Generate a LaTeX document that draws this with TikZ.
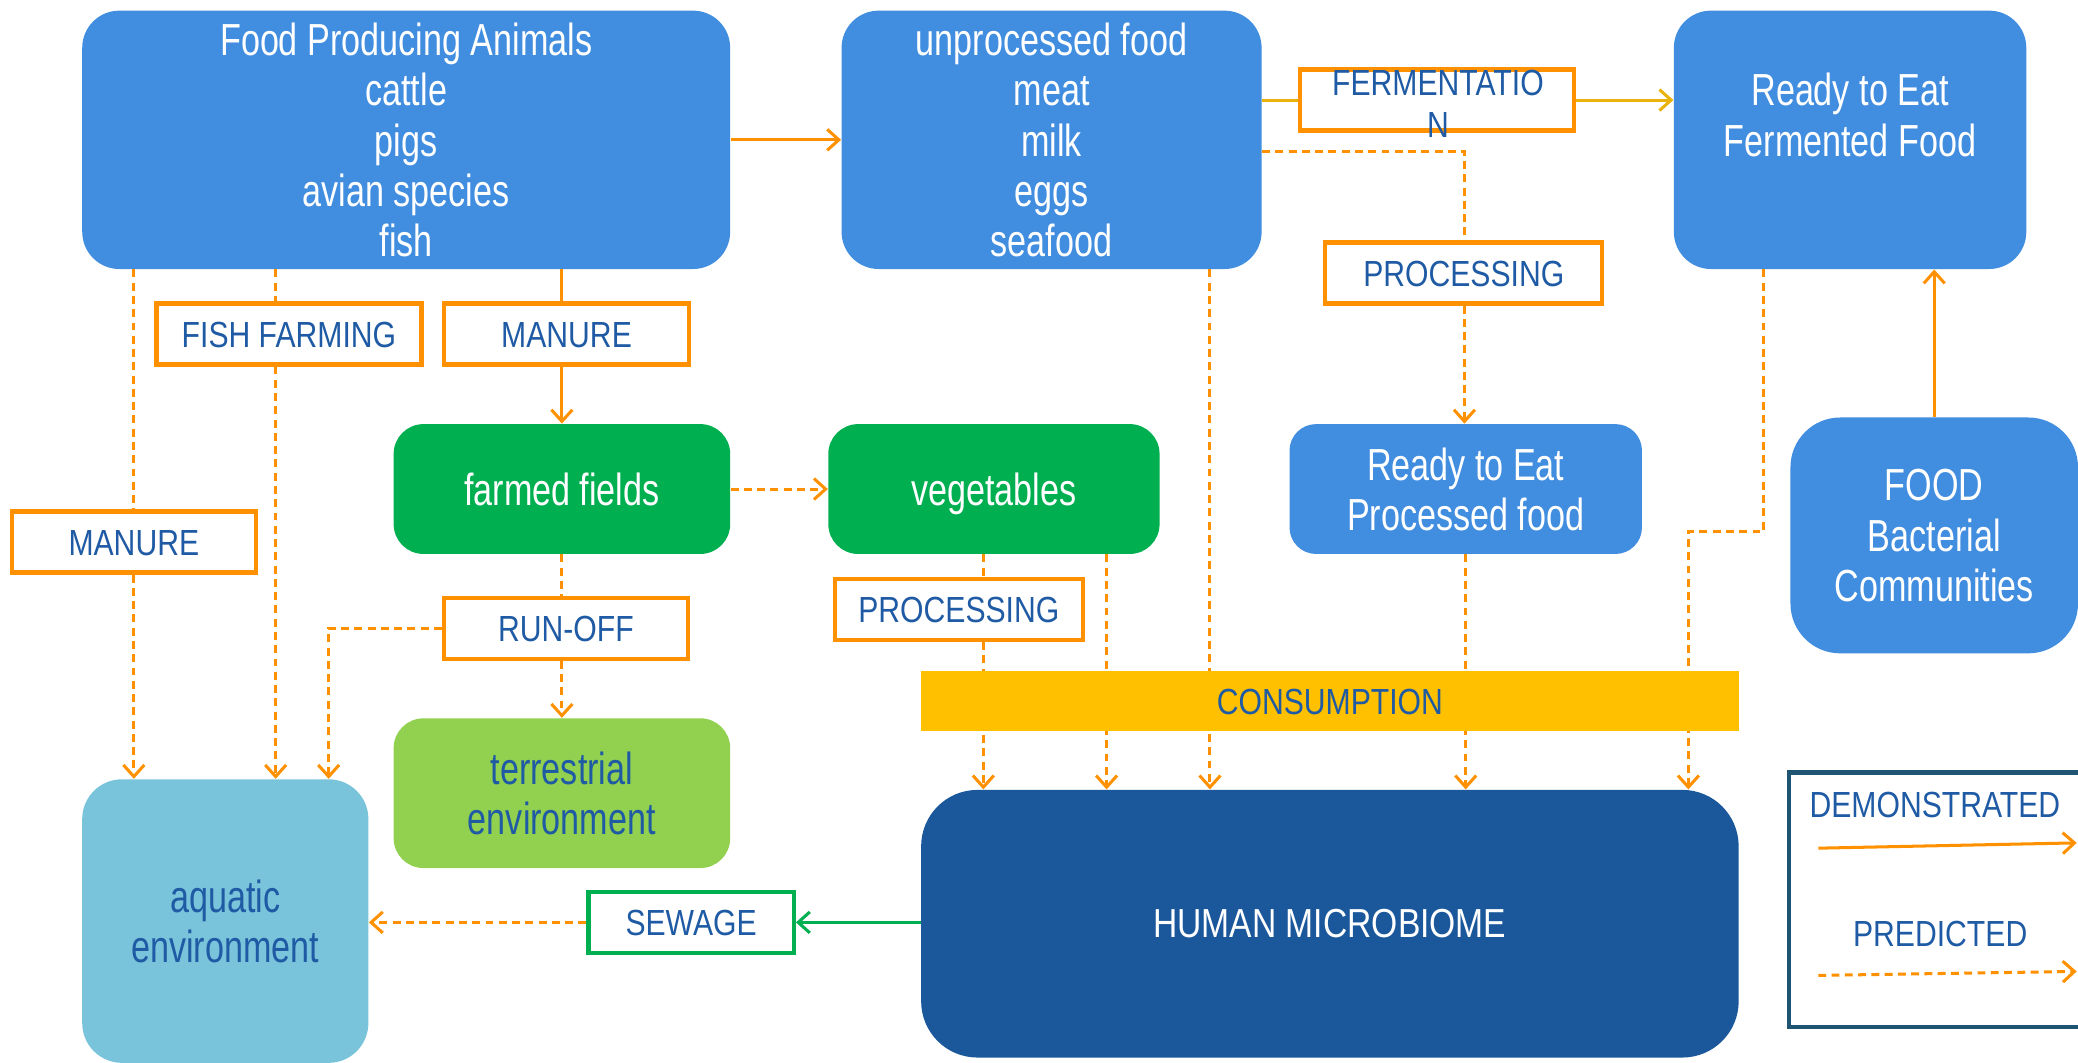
\documentclass[tikz,border=0pt]{standalone}
\usepackage{fontspec}
\setmainfont[FakeStretch=0.76]{Liberation Sans}
\newfontfamily\capsfont[FakeStretch=0.83]{Liberation Sans}
\usetikzlibrary{arrows.meta}

\definecolor{boxblue}{RGB}{65,141,224}
\definecolor{deepblue}{RGB}{26,87,155}
\definecolor{fieldgreen}{RGB}{0,176,80}
\definecolor{landgreen}{RGB}{146,208,80}
\definecolor{waterblue}{RGB}{121,196,219}
\definecolor{consyellow}{RGB}{255,192,0}
\definecolor{arrorange}{RGB}{255,145,0}
\definecolor{fermgold}{RGB}{233,178,12}
\definecolor{labblue}{RGB}{31,90,164}
\definecolor{legendc}{RGB}{31,85,115}

\begin{document}
\begin{tikzpicture}[x=0.02cm, y=-0.02cm,
    >={Straight Barb[length=5pt,width=9pt]},
    every node/.style={font=\fontsize{19.3}{21.6}\selectfont, align=center, inner sep=0pt},
    blk/.style={rounded corners=0.56cm, fill=boxblue, text=white, text depth=0pt},
    capstext/.style={text=labblue, font=\capsfont\fontsize{15.6}{18.1}\selectfont,
        text height=11.2pt, text depth=0pt},
    lab/.style={capstext, draw=arrorange, line width=1.8pt, fill=white, minimum height=0.92cm},
    demo/.style={draw=arrorange, line width=1.3pt},
    pred/.style={demo, dash pattern=on 3.4pt off 2.3pt},
]
    \useasboundingbox (0,0) rectangle (1568,802);

    % food sources
    \node[blk, minimum width=9.78cm, minimum height=3.9cm] (animals) at (306.5,105.5)
        {Food Producing Animals\\cattle\\pigs\\avian species\\fish};
    \node[blk, minimum width=6.34cm, minimum height=3.9cm] (raw) at (793.5,105.5)
        {unprocessed food\\meat\\milk\\eggs\\seafood};
    \node[blk, minimum width=5.32cm, minimum height=3.9cm] (fermented) at (1396,105.5)
        {Ready to Eat\\Fermented Food\\};
    \node[blk, minimum width=5.32cm, minimum height=1.96cm, rounded corners=0.4cm] (rtep) at (1106,369)
        {Ready to Eat\\Processed food};
    \node[blk, minimum width=4.34cm, minimum height=3.56cm, rounded corners=0.75cm] (bact) at (1459.5,404)
        {FOOD\\Bacterial\\Communities};

    % fields and environments
    \node[blk, fill=fieldgreen, minimum width=5.08cm, minimum height=1.96cm, rounded corners=0.45cm] (farmed) at (424,369) {farmed fields};
    \node[blk, fill=fieldgreen, minimum width=5.0cm, minimum height=1.96cm, rounded corners=0.45cm] (veg) at (750,369) {vegetables};
    \node[blk, fill=landgreen, text=labblue, minimum width=5.08cm, minimum height=2.26cm, rounded corners=0.45cm] (terr) at (424,598.5)
        {terrestrial\\environment};
    \node[blk, fill=waterblue, text=labblue, minimum width=4.32cm, minimum height=4.28cm, rounded corners=0.6cm] (aqua) at (170,695)
        {aquatic\\environment};
    \node[blk, fill=deepblue, minimum width=12.34cm, minimum height=4.04cm, rounded corners=0.85cm,
        font=\capsfont\fontsize{17.4}{21.6}\selectfont] (human) at (1003.5,697) {HUMAN MICROBIOME};

    % process labels
    \node[lab, minimum width=4.14cm] (fermlab) at (1084.5,75.5) {};
    \node[capstext] (fermtext) at (1085,94) {FERMENTATIO\\N};
    \node[lab, minimum width=4.18cm] (procU) at (1104.5,206) {PROCESSING};
    \node[lab, minimum width=4.0cm] (ff) at (218,252) {FISH FARMING};
    \node[lab, minimum width=3.7cm] (manU) at (427.5,252) {MANURE};
    \node[lab, minimum width=3.68cm] (manL) at (101,409) {MANURE};
    \node[lab, minimum width=3.68cm] (runoff) at (427,474) {RUN-OFF};
    \node[lab, minimum width=3.74cm] (procL) at (723.5,460) {PROCESSING};
    \node[lab, draw=fieldgreen, minimum width=3.1cm] (sewage) at (521.5,696) {SEWAGE};

    % x positions of the drop lines
    \coordinate (ffx) at (208,0);
    \coordinate (rox) at (248,0);
    \coordinate (vpx) at (742,0);
    \coordinate (vdx) at (835,0);
    \coordinate (rhx) at (913,0);
    \coordinate (procx) at (1105,114);
    \coordinate (fk1) at (1331,401);
    \coordinate (fk2) at (1274,401);

    % demonstrated
    \draw[demo,->] (animals) -- (raw);
    \draw[demo] (farmed |- animals.south) -- (farmed |- manU.north);
    \draw[demo,->] (farmed |- manU.south) -- (farmed.north);
    \draw[demo,->] (bact.north) -- (bact |- fermented.south);
    \draw[fermgold, line width=1.3pt] (raw.east |- fermlab) -- (fermlab.west);
    \draw[fermgold, line width=1.3pt, ->] (fermlab.east) -- (fermented.west |- fermlab);
    \draw[fieldgreen, line width=1.3pt, ->] (human.west |- sewage) -- (sewage.east);

    % predicted
    \draw[pred] (manL |- animals.south) -- (manL.north);
    \draw[pred,->] (manL.south) -- (manL |- aqua.north);
    \draw[pred] (ffx |- animals.south) -- (ffx |- ff.north);
    \draw[pred,->] (ffx |- ff.south) -- (ffx |- aqua.north);
    \draw[pred,->] (farmed.east) -- (veg.west);
    \draw[pred] (farmed.south) -- (farmed |- runoff.north);
    \draw[pred,->] (farmed |- runoff.south) -- (terr.north);
    \draw[pred,->] (runoff.west) -- (rox |- runoff) -- (rox |- aqua.north);
    \draw[pred] (raw.east |- procx) -- (procx) -- (procx |- procU.north);
    \draw[pred,->] (procx |- procU.south) -- (procx |- rtep.north);
    \draw[pred] (vpx |- veg.south) -- (vpx |- procL.north);
    \draw[pred,->] (vpx |- procL.south) -- (vpx |- human.north);
    \draw[pred,->] (vdx |- veg.south) -- (vdx |- human.north);
    \draw[pred,->] (rhx |- raw.south) -- (rhx |- human.north);
    \draw[pred,->] (rtep.south) -- (rtep |- human.north);
    \draw[pred,->] (fk1 |- fermented.south) -- (fk1) -- (fk2) -- (fk2 |- human.north);
    \draw[pred,->] (sewage.west) -- (aqua.east |- sewage);

    % consumption bar over the drop lines
    \node[capstext, fill=consyellow, minimum width=12.34cm, minimum height=0.9cm] (cons) at (1003.5,529) {CONSUMPTION};

    % legend
    \node[draw=legendc, line width=2pt, minimum width=4.5cm, minimum height=3.84cm] (legend) at (1462.5,679) {};
    \node[capstext] (demtxt) at (1460,607) {DEMONSTRATED};
    \node[capstext] (predtxt) at (1464,704) {PREDICTED};
    \coordinate (d1) at (1372,640);
    \coordinate (d2) at (1567,636);
    \coordinate (p1) at (1372,736);
    \coordinate (p2) at (1567,733);
    \draw[demo,->] (d1) -- (d2);
    \draw[pred,->] (p1) -- (p2);
\end{tikzpicture}
\end{document}
